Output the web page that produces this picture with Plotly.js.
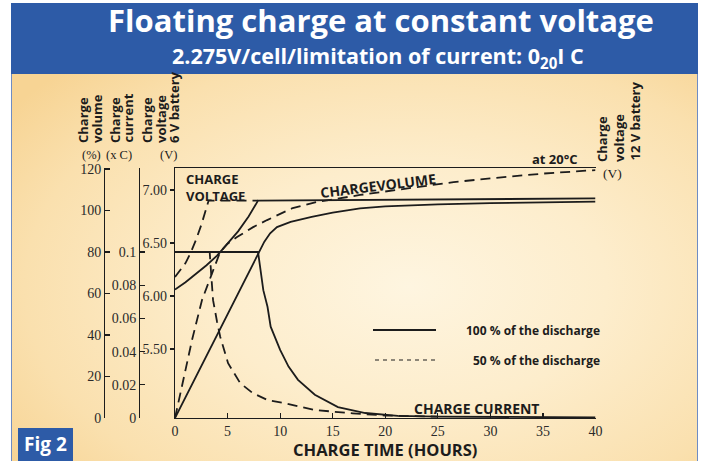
<!DOCTYPE html>
<html><head><meta charset="utf-8">
<script src="https://cdn.plot.ly/plotly-3.0.1.min.js"></script>
<style>
html,body{margin:0;padding:0;background:#fff;}
#wrap{position:relative;width:702px;height:461px;overflow:hidden;background:#fff;}
#panel{position:absolute;left:11px;top:73px;width:685px;height:388px;
 background: radial-gradient(ellipse 72% 78% at 58% 55%, #FEF5E0 0%, #FDEDCC 40%, #FAE0AE 78%, #F7D494 100%);
 border-left:1px solid #6E8CC4;border-right:1px solid #6E8CC4;}
#chart{position:absolute;left:0;top:0;width:702px;height:461px;}
</style></head>
<body><div id="wrap"><div id="panel"></div><div id="chart"></div></div>
<script>
// ---- data (hours, values) ----
const volt100Hours = [0, 1, 2, 3, 4, 5, 6, 7, 7.9, 40];
const volt100Values = [6.06, 6.13, 6.21, 6.29, 6.38, 6.49, 6.61, 6.75, 6.90, 6.92];
const volt50Hours = [0, 0.5, 1, 1.5, 2, 2.5, 3.0, 3.2, 7.9];
const volt50Values = [6.18, 6.24, 6.31, 6.41, 6.53, 6.67, 6.82, 6.90, 6.90];

const curr100Hours = [0, 7.9, 8.4, 8.8, 9.1, 10, 10.8, 11.7, 13.3, 15.5, 18.1, 21.2, 25, 30, 35, 40];
const curr100Values = [0.1, 0.1, 0.077, 0.067, 0.055, 0.041, 0.031, 0.023, 0.014, 0.0066, 0.003, 0.0013, 0.0008, 0.0006, 0.0005, 0.0004];
const curr50Hours = [0, 3.3, 3.45, 3.62, 4.0, 4.3, 5.05, 6.2, 7.4, 8.8, 10.5, 13.3, 16.9, 20, 25];
const curr50Values = [0.1, 0.1, 0.086, 0.071, 0.058, 0.049, 0.033, 0.021, 0.015, 0.0108, 0.0088, 0.0048, 0.0028, 0.0015, 0.0008];

const vol100Hours = [0, 7.9, 8.5, 9.05, 9.7, 11, 13, 15, 17.6, 20, 25, 30, 35, 40];
const vol100Values = [0, 79.5, 85, 89, 92, 94.5, 97, 99, 101, 102, 103, 103.6, 104, 104.3];
const vol50Hours = [0, 0.76, 1.62, 2.57, 3.3, 4.29, 5.0, 5.9, 7.43, 8.76, 11.2, 13.5, 17.6, 22, 26.5, 30, 35, 40];
const vol50Values = [0, 18.3, 37.6, 56.9, 67, 80, 84, 87.2, 92, 95.4, 101.2, 104.1, 107.5, 110.5, 113.7, 115.5, 117.8, 119.5];

const timeTicks = [0, 5, 10, 15, 20, 25, 30, 35, 40];
const volumeTicks = [0, 20, 40, 60, 80, 100, 120];
const currentTicks = [0, 0.02, 0.04, 0.06, 0.08, 0.1];
const currentTickText = ['0', '0.02', '0.04', '0.06', '0.08', '0.1'];
const volt6Ticks = [5.5, 6.0, 6.5, 7.0];
const volt6TickText = ['5.50', '6.00', '6.50', '7.00'];
const volt12Ticks = [11, 12, 13, 14];
const volt12TickText = ['11.0', '12.0', '13.0', '14.0'];

// ---- layout helpers (pixel -> paper) ----
const W = 702, H = 461;
const X = px => px / W;
const Y = py => 1 - py / H;
const INK = '#1c1c1c';
const SANS = 'Open Sans';
const SERIF = 'Liberation Serif';
const solid = {color: INK, width: 1.8};
const dashed = {color: INK, width: 1.8, dash: '10px,6px'};

const traces = [
  {x: volt100Hours, y: volt100Values, yaxis: 'y3', name: 'Voltage 100 %', line: solid},
  {x: volt50Hours, y: volt50Values, yaxis: 'y3', name: 'Voltage 50 %', line: dashed},
  {x: curr100Hours, y: curr100Values, yaxis: 'y2', name: 'Current 100 %', line: solid},
  {x: curr50Hours, y: curr50Values, yaxis: 'y2', name: 'Current 50 %', line: dashed},
  {x: vol100Hours, y: vol100Values, yaxis: 'y', name: 'Volume 100 %', line: solid},
  {x: vol50Hours, y: vol50Values, yaxis: 'y', name: 'Volume 50 %', line: dashed}
].map(t => Object.assign({type: 'scatter', mode: 'lines', hoverinfo: 'skip'}, t));

const dom = [Y(418), Y(168)];
const tickFont = {family: SERIF, size: 14, color: '#2a2a2a'};
const axBase = {showgrid: false, zeroline: false, showline: true, linecolor: INK, linewidth: 1.3,
  tickcolor: INK, tickwidth: 1.2, tickfont: tickFont, fixedrange: true};

const layout = {
  width: W, height: H,
  margin: {l: 0, r: 0, t: 0, b: 0},
  paper_bgcolor: 'rgba(0,0,0,0)', plot_bgcolor: 'rgba(0,0,0,0)',
  showlegend: false,
  title: {text: '<b>Floating charge at constant voltage</b>', font: {family: SANS, size: 31, color: '#ffffff'},
    x: X(381), xanchor: 'center', xref: 'paper', y: Y(21), yanchor: 'middle', yref: 'container'},
  xaxis: Object.assign({}, axBase, {domain: [X(175), X(595.5)], range: [0, 40], anchor: 'y', mirror: true,
    tickvals: timeTicks, ticks: 'inside', ticklen: 5, ticklabelstandoff: 0,
    title: {text: '<b>CHARGE TIME (HOURS)</b>', font: {family: SANS, size: 16.5, color: INK}, standoff: 10}}),
  yaxis: Object.assign({}, axBase, {domain: dom, range: [0, 120.5], anchor: 'free', position: X(104), side: 'left',
    tickvals: volumeTicks, ticks: 'inside', ticklen: 5}),
  yaxis2: Object.assign({}, axBase, {range: [0, 0.1506], overlaying: 'y', anchor: 'free', position: X(139), side: 'left',
    tickvals: currentTicks, ticktext: currentTickText, ticks: 'inside', ticklen: 5}),
  yaxis3: Object.assign({}, axBase, {range: [4.849, 7.2075], overlaying: 'y', anchor: 'x', side: 'left',
    tickvals: volt6Ticks, ticktext: volt6TickText, ticks: 'outside', ticklen: 4}),
  yaxis4: Object.assign({}, axBase, {range: [9.698, 14.415], overlaying: 'y', anchor: 'x', side: 'right',
    tickvals: volt12Ticks, ticktext: volt12TickText, ticks: 'inside', ticklen: 4, ticklabelstandoff: 4}),
  shapes: [
    {type: 'rect', xref: 'paper', yref: 'paper', x0: X(11), x1: X(698), y0: Y(74), y1: Y(3),
      fillcolor: '#2D5BA7', line: {width: 0}, layer: 'below'},
    {type: 'rect', xref: 'paper', yref: 'paper', x0: X(18), x1: X(73), y0: Y(461), y1: Y(428),
      fillcolor: '#2D5BA7', line: {width: 0}, layer: 'below'},
    {type: 'line', xref: 'paper', yref: 'paper', x0: X(373), x1: X(436), y0: Y(330), y1: Y(330),
      line: {color: INK, width: 2.2}},
    {type: 'line', xref: 'paper', yref: 'paper', x0: X(375), x1: X(436), y0: Y(360), y1: Y(360),
      line: {color: INK, width: 1, dash: '4px,4px'}}
  ],
  annotations: []
};

function txt(text, px, py, o) {
  layout.annotations.push(Object.assign({text: text, xref: 'paper', yref: 'paper', x: X(px), y: Y(py),
    showarrow: false, xanchor: 'center', yanchor: 'middle', font: {family: SANS, size: 13, color: INK}}, o || {}));
}
const bold = s => '<b>' + s + '</b>';
const rot = (s, px, pyBottom, size) => txt(bold(s), px, pyBottom, {textangle: -90, yanchor: 'bottom',
  font: {family: SANS, size: size || 13, color: INK}});

// subtitle and figure label
txt(bold('2.275V/cell/limitation of current: 0<sub>20</sub>I C'), 378, 57, {font: {family: SANS, size: 21.5, color: '#ffffff'}});
txt(bold('Fig 2'), 45.5, 444, {font: {family: SANS, size: 19, color: '#ffffff'}});

// left axis headings
const unitFont = {family: SERIF, size: 12.5, color: INK};
rot('Charge', 83, 145); rot('volume', 97.5, 145);
txt('(%)', 91, 154.5, {font: unitFont});
rot('Charge', 115, 145); rot('current', 128, 145);
txt('(x C)', 119, 154.5, {font: unitFont});
rot('Charge', 147, 145); rot('voltage', 161, 145); rot('6 V battery', 174, 145);
txt('(V)', 168, 154.5, {font: unitFont});

// right axis heading
rot('Charge', 602, 164); rot('voltage', 619, 164); rot('12 V battery', 635, 163);
txt('(V)', 612, 174, {font: {family: SERIF, size: 13.5, color: INK}});
txt(bold('at 20°C'), 555, 159, {font: {family: SANS, size: 13, color: INK}});

// in-plot labels
txt(bold('CHARGE<br>VOLTAGE'), 184, 187, {xanchor: 'left', align: 'left', font: {family: SANS, size: 13, color: INK}});
txt(bold('CHARGEVOLUME'), 378, 186, {textangle: -7, font: {family: SANS, size: 14, color: INK}});
txt(bold('CHARGE CURRENT'), 476, 408, {font: {family: SANS, size: 14, color: INK}});
txt(bold('100 % of the discharge'), 602, 330, {xanchor: 'right', font: {family: SANS, size: 12, color: INK}});
txt(bold('50 % of the discharge'), 602, 360, {xanchor: 'right', font: {family: SANS, size: 12, color: INK}});

Plotly.newPlot('chart', traces, layout, {staticPlot: true, displayModeBar: false});
</script></body></html>
